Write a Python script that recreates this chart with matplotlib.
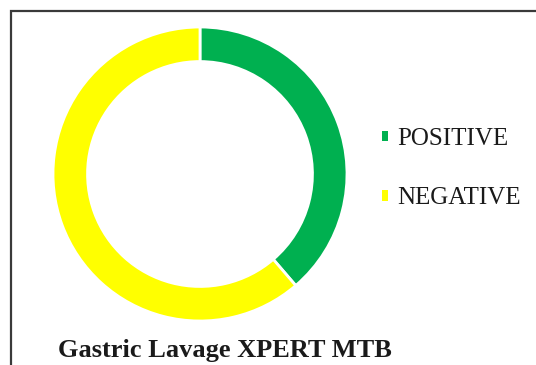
import matplotlib.pyplot as plt
from matplotlib.patches import Rectangle, Patch

plt.rcParams['font.family'] = ['Liberation Serif', 'DejaVu Serif']

# ── Data ──────────────────────────────────────────────────────────────────────
labels = ['POSITIVE', 'NEGATIVE']
counts = [12, 19]
colors = ['#00B050', '#FFFF00']
title = 'Gastric Lavage XPERT MTB'

# ── Figure ────────────────────────────────────────────────────────────────────
W, H = 536, 365
fig = plt.figure(figsize=(W / 100, H / 100), dpi=100)

# outer frame (runs off the right/bottom edge)
fig.patches.append(Rectangle((11 / W, -0.05), 1.2, (H - 11) / H + 0.05,
                             transform=fig.transFigure, fill=False,
                             edgecolor='#3a3a3a', linewidth=1.6))

cx, cy, r = 200, 174, 147
size = 300
ax = fig.add_axes([(cx - size / 2) / W, (H - cy - size / 2) / H, size / W, size / H])
wedges, _ = ax.pie(counts, colors=colors, startangle=90, counterclock=False,
                   radius=1.0, wedgeprops=dict(width=0.235, edgecolor='white', linewidth=2))
lim = size / 2 / r
ax.set_xlim(-lim, lim)
ax.set_ylim(-lim, lim)
ax.set_aspect('equal')
ax.axis('off')

handles = [Patch(facecolor=c, edgecolor='none') for c in colors]
fig.legend(handles, labels, loc='upper left', bbox_to_anchor=(382 / W, 1 - 128 / H),
           frameon=False, fontsize=18, handlelength=0.25, handleheight=0.25,
           handletextpad=0.35, labelspacing=1.5, borderpad=0, borderaxespad=0,
           labelcolor='#1a1a1a')

fig.text(58 / W, 1 - 357 / H, title, fontsize=19, fontweight='bold',
         color='#1a1a1a', va='baseline', ha='left')

fig.savefig('out.png', dpi=100)
